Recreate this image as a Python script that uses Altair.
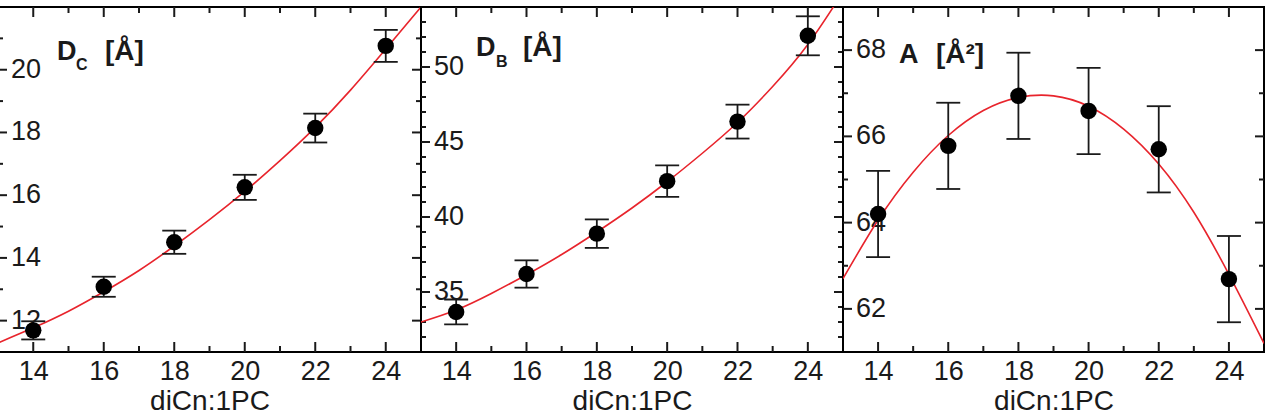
import altair as alt
import pandas as pd

# chain length of the diCn:1PC series
X_VALUES = [14, 16, 18, 20, 22, 24]

# measured quantities with their uncertainties
DC_MEAN = [11.69, 13.08, 14.50, 16.25, 18.14, 20.76]
DC_ERR = [0.29, 0.32, 0.37, 0.40, 0.46, 0.51]
DB_MEAN = [33.67, 36.20, 38.89, 42.39, 46.36, 52.08]
DB_ERR = [0.83, 0.91, 0.95, 1.05, 1.13, 1.30]
A_MEAN = [64.20, 65.78, 66.94, 66.59, 65.70, 62.69]
A_ERR = [1.0, 1.0, 1.0, 1.0, 1.0, 1.0]

# fitted curves sampled across the full x range
FIT_X = [13, 14, 15, 16, 17, 18, 19, 20, 21, 22, 23, 24, 25]
DC_FIT = [11.29, 11.77, 12.30, 12.92, 13.60, 14.38, 15.22, 16.12, 17.10, 18.16, 19.35, 20.66, 22.0]
DB_FIT = [33.0, 33.8, 34.9, 36.15, 37.5, 39.0, 40.6, 42.35, 44.25, 46.3, 48.7, 51.5, 55.0]
A_FIT = [62.7, 64.06, 65.17, 66.02, 66.6, 66.9, 66.94, 66.7, 66.17, 65.36, 64.24, 62.8, 61.2]

# tick positions
X_MAJOR = [14, 16, 18, 20, 22, 24]
X_MINOR = [15, 17, 19, 21, 23]
DC_Y_MAJOR = [12, 14, 16, 18, 20]
DC_Y_MINOR = [13, 15, 17, 19, 21]
DB_Y_MAJOR = [35, 40, 45, 50]
DB_Y_MINOR = [32, 33, 34, 36, 37, 38, 39, 41, 42, 43, 44, 46, 47, 48, 49, 51, 52, 53]
A_Y_MAJOR = [62, 64, 66, 68]
A_Y_MINOR = [63, 65, 67]

FONT = "Liberation Sans"
INK = "#1a1a1a"
RED = "#e8242c"
H = 345


def panel(width, y_domain, y_major, y_minor, means, errs, fit, notes):
    xs = alt.Scale(domain=[13, 25], nice=False, zero=False)
    ys = alt.Scale(domain=y_domain, nice=False, zero=False)
    xaxis = alt.Axis(
        values=X_MAJOR, format="d", ticks=False, domain=False, grid=False,
        labelFont=FONT, labelFontSize=27, labelColor=INK, labelPadding=6,
        labelOverlap=False, labelFlush=False,
        title="diCn:1PC", titleFont=FONT, titleFontSize=28,
        titleFontWeight="normal", titleColor=INK, titlePadding=3,
    )

    def X(f="x:Q"):
        return alt.X(f, scale=xs, axis=xaxis)

    def Y(f):
        return alt.Y(f, scale=ys, axis=None)

    pts = pd.DataFrame({
        "x": X_VALUES,
        "y": means,
        "lo": [m - e for m, e in zip(means, errs)],
        "hi": [m + e for m, e in zip(means, errs)],
    })
    xmaj = pd.DataFrame({"x": X_MAJOR})
    xmin = pd.DataFrame({"x": X_MINOR})
    ymaj = pd.DataFrame({"y": y_major})
    ymin = pd.DataFrame({"y": y_minor})

    rule = dict(color=INK, strokeWidth=2)
    layers = [
        # inward ticks on all four sides
        alt.Chart(xmaj).mark_rule(**rule).encode(x=X(), y=alt.value(0), y2=alt.value(10)),
        alt.Chart(xmaj).mark_rule(**rule).encode(x=X(), y=alt.value(H - 10), y2=alt.value(H)),
        alt.Chart(xmin).mark_rule(**rule).encode(x=X(), y=alt.value(0), y2=alt.value(6)),
        alt.Chart(xmin).mark_rule(**rule).encode(x=X(), y=alt.value(H - 6), y2=alt.value(H)),
        alt.Chart(ymaj).mark_rule(**rule).encode(y=Y("y:Q"), x=alt.value(0), x2=alt.value(9)),
        alt.Chart(ymaj).mark_rule(**rule).encode(y=Y("y:Q"), x=alt.value(width - 9), x2=alt.value(width)),
        alt.Chart(ymin).mark_rule(**rule).encode(y=Y("y:Q"), x=alt.value(0), x2=alt.value(5)),
        alt.Chart(ymin).mark_rule(**rule).encode(y=Y("y:Q"), x=alt.value(width - 5), x2=alt.value(width)),
        # y tick labels drawn inside the frame
        alt.Chart(ymaj).mark_text(align="left", baseline="middle", font=FONT,
                                  fontSize=27, color=INK).encode(
            y=Y("y:Q"), x=alt.value(13), text=alt.Text("y:Q", format="d")),
        # fitted curve
        alt.Chart(pd.DataFrame({"x": FIT_X, "y": fit})).mark_line(
            color=RED, strokeWidth=1.6, clip=True, interpolate="natural").encode(
            x=X(), y=Y("y:Q")),
        # error bars with caps
        alt.Chart(pts).mark_rule(color=INK, strokeWidth=1.8).encode(
            x=X(), y=Y("lo:Q"), y2="hi:Q"),
        alt.Chart(pts).mark_tick(orient="horizontal", size=24, thickness=1.8,
                                 color=INK, opacity=1).encode(x=X(), y=Y("lo:Q")),
        alt.Chart(pts).mark_tick(orient="horizontal", size=24, thickness=1.8,
                                 color=INK, opacity=1).encode(x=X(), y=Y("hi:Q")),
        # data points
        alt.Chart(pts).mark_circle(size=270, color="black", opacity=1).encode(
            x=X(), y=Y("y:Q")),
    ]
    for text, px, py, size in notes:
        layers.append(
            alt.Chart(pd.DataFrame({"t": [text]})).mark_text(
                align="left", baseline="alphabetic", font=FONT, fontWeight="bold",
                fontSize=size, color=INK).encode(
                x=alt.value(px), y=alt.value(py), text="t:N")
        )
    return alt.layer(*layers).properties(width=width, height=H)


p1 = panel(423, [11, 22], DC_Y_MAJOR, DC_Y_MINOR, DC_MEAN, DC_ERR, DC_FIT,
           [("D", 59, 53, 27), ("C", 78, 63, 16), ("[Å]", 107, 53, 28)])
p2 = panel(422, [31, 54], DB_Y_MAJOR, DB_Y_MINOR, DB_MEAN, DB_ERR, DB_FIT,
           [("D", 55, 49, 27), ("B", 75, 60, 16), ("[Å]", 102, 49, 28)])
p3 = panel(421, [61, 69], A_Y_MAJOR, A_Y_MINOR, A_MEAN, A_ERR, A_FIT,
           [("A", 56, 56, 27), ("[Å²]", 93, 56, 28)])

chart = (
    alt.hconcat(p1, p2, p3, spacing=0, bounds="flush")
    .properties(padding={"left": -4, "top": 5, "right": 0, "bottom": 0})
    .configure_view(stroke="black", strokeWidth=2)
)

chart.save("out.html", embed_options={"renderer": "svg", "actions": False})
